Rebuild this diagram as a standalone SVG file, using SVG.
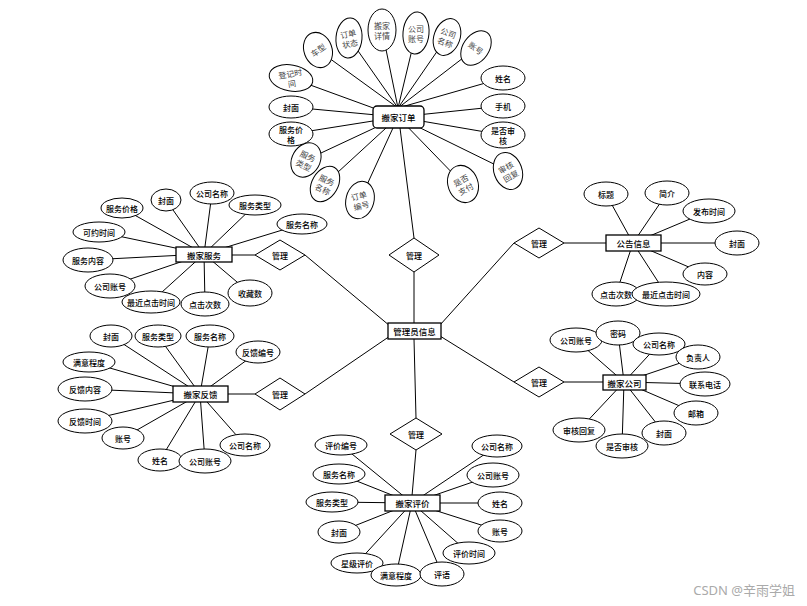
<svg xmlns="http://www.w3.org/2000/svg" width="807" height="606" viewBox="0 0 807 606">
<style>
.l{stroke:#000;stroke-width:1;fill:none}
.e{fill:#fff;stroke:#000;stroke-width:1}
.b{fill:#fff;stroke:#000;stroke-width:1.3}
.d{fill:#fff;stroke:#000;stroke-width:1}
.t{font-family:"Noto Sans CJK SC","Noto Sans",sans-serif;font-size:8px;font-weight:500;text-anchor:middle;dominant-baseline:central;fill:#000}
.s{fill:#444;font-weight:normal}
.k{font-size:8.5px;font-weight:500}
.w{font-family:"Noto Sans","Noto Sans CJK SC",sans-serif;font-size:13px;fill:#aaa;text-anchor:end}
</style>
<rect width="807" height="606" fill="#fff"/>
<g id="connectors">
<line class="l" x1="414" y1="323" x2="414" y2="272"/>
<line class="l" x1="414" y1="238" x2="400" y2="128"/>
<line class="l" x1="390" y1="326" x2="305" y2="255"/>
<line class="l" x1="255" y1="255" x2="230" y2="255"/>
<line class="l" x1="390" y1="336" x2="305" y2="394"/>
<line class="l" x1="255" y1="394" x2="227" y2="394"/>
<line class="l" x1="414" y1="339" x2="416" y2="418"/>
<line class="l" x1="416" y1="450" x2="412" y2="496"/>
<line class="l" x1="440" y1="325" x2="514" y2="243"/>
<line class="l" x1="564" y1="243" x2="607" y2="243"/>
<line class="l" x1="440" y1="336" x2="514" y2="382"/>
<line class="l" x1="564" y1="382" x2="604" y2="382"/>
<line class="l" x1="318" y1="50" x2="398" y2="108"/>
<line class="l" x1="349" y1="38" x2="398" y2="108"/>
<line class="l" x1="382" y1="30" x2="398" y2="108"/>
<line class="l" x1="416" y1="33" x2="398" y2="108"/>
<line class="l" x1="447" y1="37" x2="398" y2="108"/>
<line class="l" x1="476" y1="48" x2="398" y2="108"/>
<line class="l" x1="503" y1="78" x2="398" y2="108"/>
<line class="l" x1="503" y1="106" x2="398" y2="117"/>
<line class="l" x1="503" y1="135" x2="398" y2="117"/>
<line class="l" x1="508" y1="171" x2="398" y2="117"/>
<line class="l" x1="463" y1="184" x2="398" y2="117"/>
<line class="l" x1="360" y1="200" x2="398" y2="117"/>
<line class="l" x1="325" y1="184" x2="398" y2="117"/>
<line class="l" x1="306" y1="160" x2="398" y2="117"/>
<line class="l" x1="291" y1="134" x2="398" y2="117"/>
<line class="l" x1="291" y1="107" x2="398" y2="117"/>
<line class="l" x1="291" y1="78" x2="398" y2="117"/>
<line class="l" x1="122" y1="208" x2="204" y2="254"/>
<line class="l" x1="166" y1="200" x2="204" y2="254"/>
<line class="l" x1="212" y1="193" x2="204" y2="254"/>
<line class="l" x1="255" y1="205" x2="204" y2="254"/>
<line class="l" x1="302" y1="224" x2="204" y2="254"/>
<line class="l" x1="99" y1="232" x2="204" y2="254"/>
<line class="l" x1="88" y1="260" x2="204" y2="254"/>
<line class="l" x1="110" y1="286" x2="204" y2="254"/>
<line class="l" x1="151" y1="302" x2="204" y2="254"/>
<line class="l" x1="205" y1="304" x2="204" y2="254"/>
<line class="l" x1="250" y1="293" x2="204" y2="254"/>
<line class="l" x1="111" y1="336" x2="200" y2="394"/>
<line class="l" x1="158" y1="336" x2="200" y2="394"/>
<line class="l" x1="210" y1="336" x2="200" y2="394"/>
<line class="l" x1="258" y1="352" x2="200" y2="394"/>
<line class="l" x1="89" y1="362" x2="200" y2="394"/>
<line class="l" x1="85" y1="389" x2="200" y2="394"/>
<line class="l" x1="85" y1="421" x2="200" y2="394"/>
<line class="l" x1="123" y1="438" x2="200" y2="394"/>
<line class="l" x1="160" y1="460" x2="200" y2="394"/>
<line class="l" x1="205" y1="461" x2="200" y2="394"/>
<line class="l" x1="245" y1="445" x2="200" y2="394"/>
<line class="l" x1="341" y1="445" x2="412" y2="503"/>
<line class="l" x1="339" y1="474" x2="412" y2="503"/>
<line class="l" x1="332" y1="502" x2="412" y2="503"/>
<line class="l" x1="339" y1="532" x2="412" y2="503"/>
<line class="l" x1="357" y1="563" x2="412" y2="503"/>
<line class="l" x1="396" y1="575" x2="412" y2="503"/>
<line class="l" x1="442" y1="574" x2="412" y2="503"/>
<line class="l" x1="469" y1="553" x2="412" y2="503"/>
<line class="l" x1="500" y1="531" x2="412" y2="503"/>
<line class="l" x1="500" y1="503" x2="412" y2="503"/>
<line class="l" x1="493" y1="475" x2="412" y2="503"/>
<line class="l" x1="497" y1="446" x2="412" y2="503"/>
<line class="l" x1="606" y1="194" x2="633" y2="243"/>
<line class="l" x1="667" y1="193" x2="633" y2="243"/>
<line class="l" x1="709" y1="211" x2="633" y2="243"/>
<line class="l" x1="737" y1="243" x2="633" y2="243"/>
<line class="l" x1="705" y1="274" x2="633" y2="243"/>
<line class="l" x1="616" y1="294" x2="633" y2="243"/>
<line class="l" x1="666" y1="294" x2="633" y2="243"/>
<line class="l" x1="576" y1="340" x2="624" y2="382"/>
<line class="l" x1="618" y1="333" x2="624" y2="382"/>
<line class="l" x1="659" y1="344" x2="624" y2="382"/>
<line class="l" x1="698" y1="357" x2="624" y2="382"/>
<line class="l" x1="705" y1="384" x2="624" y2="382"/>
<line class="l" x1="696" y1="413" x2="624" y2="382"/>
<line class="l" x1="664" y1="433" x2="624" y2="382"/>
<line class="l" x1="622" y1="446" x2="624" y2="382"/>
<line class="l" x1="579" y1="430" x2="624" y2="382"/>
</g>

<g id="rel-top"><polygon class="d" points="414,238 439,255 414,272 389,255"/><text class="t" x="414" y="255">管理</text></g>
<g id="rel-ul"><polygon class="d" points="280,240 305,255 280,270 255,255"/><text class="t" x="280" y="255">管理</text></g>
<g id="rel-ll"><polygon class="d" points="280,378 305,394 280,410 255,394"/><text class="t" x="280" y="394">管理</text></g>
<g id="rel-bot"><polygon class="d" points="416,418 442,434 416,450 390,434"/><text class="t" x="416" y="434">管理</text></g>
<g id="rel-ur"><polygon class="d" points="539,228 564,243 539,258 514,243"/><text class="t" x="539" y="243">管理</text></g>
<g id="rel-lr"><polygon class="d" points="539,367 564,382 539,397 514,382"/><text class="t" x="539" y="382">管理</text></g>

<g id="admin"><rect class="b" x="388" y="323" width="53" height="16"/><text class="t k" x="414.5" y="331">管理员信息</text></g>

<g id="order-attrs">
<g id="o-chexing" transform="translate(318,50)"><ellipse class="e" rx="14" ry="18" transform="rotate(-20)"/><text class="t s" transform="rotate(-35)">车型</text></g>
<g id="o-ddzt" transform="translate(349,38)"><ellipse class="e" rx="13" ry="20" transform="rotate(5)"/><text class="t s" transform="rotate(-12)"><tspan x="0" y="-5">订单</tspan><tspan x="0" y="5">状态</tspan></text></g>
<g id="o-bjxq" transform="translate(382,30)"><ellipse class="e" rx="14" ry="21"/><text class="t s"><tspan x="0" y="-5">搬家</tspan><tspan x="0" y="5">详情</tspan></text></g>
<g id="o-gszh" transform="translate(416,33)"><ellipse class="e" rx="13" ry="21" transform="rotate(5)"/><text class="t s"><tspan x="0" y="-5">公司</tspan><tspan x="0" y="5">账号</tspan></text></g>
<g id="o-gsmc" transform="translate(447,37)"><ellipse class="e" rx="13" ry="19" transform="rotate(20)"/><text class="t s" transform="rotate(20)"><tspan x="0" y="-5">公司</tspan><tspan x="0" y="5">名称</tspan></text></g>
<g id="o-zh" transform="translate(476,48)"><ellipse class="e" rx="13" ry="19" transform="rotate(35)"/><text class="t s" transform="rotate(35)">账号</text></g>
<g id="o-xm"><ellipse class="e" cx="503" cy="78" rx="22" ry="12"/><text class="t" x="503" y="78">姓名</text></g>
<g id="o-sj"><ellipse class="e" cx="503" cy="106" rx="22" ry="12"/><text class="t" x="503" y="106">手机</text></g>
<g id="o-sfsh"><ellipse class="e" cx="503" cy="135" rx="22" ry="13"/><text class="t"><tspan x="503" y="130">是否审</tspan><tspan x="503" y="140">核</tspan></text></g>
<g id="o-shhf" transform="translate(508,171)"><ellipse class="e" rx="14" ry="19" transform="rotate(-20)"/><text class="t s" transform="rotate(-30)"><tspan x="0" y="-5">审核</tspan><tspan x="0" y="5">回复</tspan></text></g>
<g id="o-sfzf" transform="translate(463,184)"><ellipse class="e" rx="15" ry="19" transform="rotate(-20)"/><text class="t s" transform="rotate(-30)"><tspan x="0" y="-5">是否</tspan><tspan x="0" y="5">支付</tspan></text></g>
<g id="o-ddbh" transform="translate(360,200)"><ellipse class="e" rx="14" ry="19" transform="rotate(15)"/><text class="t s" transform="rotate(-15)"><tspan x="0" y="-5">订单</tspan><tspan x="0" y="5">编号</tspan></text></g>
<g id="o-fwmc" transform="translate(325,184)"><ellipse class="e" rx="13" ry="19" transform="rotate(30)"/><text class="t s" transform="rotate(25)"><tspan x="0" y="-5">服务</tspan><tspan x="0" y="5">名称</tspan></text></g>
<g id="o-fwlx" transform="translate(306,160)"><ellipse class="e" rx="14" ry="18" transform="rotate(30)"/><text class="t s" transform="rotate(25)"><tspan x="0" y="-5">服务</tspan><tspan x="0" y="5">类型</tspan></text></g>
<g id="o-fwjg"><ellipse class="e" cx="291" cy="134" rx="22" ry="12"/><text class="t"><tspan x="291" y="129">服务价</tspan><tspan x="291" y="139">格</tspan></text></g>
<g id="o-fm"><ellipse class="e" cx="291" cy="107" rx="22" ry="11"/><text class="t" x="291" y="107">封面</text></g>
<g id="o-djsj" transform="translate(291,78)"><ellipse class="e" rx="22" ry="13" transform="rotate(10)"/><text class="t s" transform="rotate(-10)"><tspan x="0" y="-5">登记时</tspan><tspan x="0" y="5">间</tspan></text></g>
</g>
<g id="order"><rect class="b" x="373" y="106" width="51" height="22" rx="4"/><text class="t k" x="398.5" y="117">搬家订单</text></g>

<g id="service-attrs">
<g><ellipse class="e" cx="122" cy="208" rx="21" ry="10"/><text class="t" x="122" y="208">服务价格</text></g>
<g><ellipse class="e" cx="166" cy="200" rx="15" ry="11"/><text class="t" x="166" y="200">封面</text></g>
<g><ellipse class="e" cx="212" cy="193" rx="22" ry="11"/><text class="t" x="212" y="193">公司名称</text></g>
<g><ellipse class="e" cx="255" cy="205" rx="26" ry="10"/><text class="t" x="255" y="205">服务类型</text></g>
<g><ellipse class="e" cx="302" cy="224" rx="25" ry="10"/><text class="t" x="302" y="224">服务名称</text></g>
<g><ellipse class="e" cx="99" cy="232" rx="26" ry="10"/><text class="t" x="99" y="232">可约时间</text></g>
<g><ellipse class="e" cx="88" cy="260" rx="25" ry="12"/><text class="t" x="88" y="260">服务内容</text></g>
<g><ellipse class="e" cx="110" cy="286" rx="25" ry="12"/><text class="t" x="110" y="286">公司账号</text></g>
<g><ellipse class="e" cx="151" cy="302" rx="29" ry="11"/><text class="t" x="151" y="302">最近点击时间</text></g>
<g><ellipse class="e" cx="205" cy="304" rx="24" ry="12"/><text class="t" x="205" y="304">点击次数</text></g>
<g><ellipse class="e" cx="250" cy="293" rx="22" ry="13"/><text class="t" x="250" y="293">收藏数</text></g>
</g>
<g id="service"><rect class="b" x="176" y="247" width="56" height="15"/><text class="t k" x="204" y="254.5">搬家服务</text></g>

<g id="feedback-attrs">
<g><ellipse class="e" cx="111" cy="336" rx="21" ry="11"/><text class="t" x="111" y="336">封面</text></g>
<g><ellipse class="e" cx="158" cy="336" rx="23" ry="11"/><text class="t" x="158" y="336">服务类型</text></g>
<g><ellipse class="e" cx="210" cy="336" rx="24" ry="11"/><text class="t" x="210" y="336">服务名称</text></g>
<g><ellipse class="e" cx="258" cy="352" rx="22" ry="11"/><text class="t" x="258" y="352">反馈编号</text></g>
<g><ellipse class="e" cx="89" cy="362" rx="26" ry="10"/><text class="t" x="89" y="362">满意程度</text></g>
<g><ellipse class="e" cx="85" cy="389" rx="27" ry="12"/><text class="t" x="85" y="389">反馈内容</text></g>
<g><ellipse class="e" cx="85" cy="421" rx="27" ry="12"/><text class="t" x="85" y="421">反馈时间</text></g>
<g><ellipse class="e" cx="123" cy="438" rx="21" ry="11"/><text class="t" x="123" y="438">账号</text></g>
<g><ellipse class="e" cx="160" cy="460" rx="22" ry="11"/><text class="t" x="160" y="460">姓名</text></g>
<g><ellipse class="e" cx="245" cy="445" rx="25" ry="11"/><text class="t" x="245" y="445">公司名称</text></g>
<g><ellipse class="e" cx="205" cy="461" rx="26" ry="12"/><text class="t" x="205" y="461">公司账号</text></g>
</g>
<g id="feedback"><rect class="b" x="173" y="386" width="55" height="16"/><text class="t k" x="200.5" y="394">搬家反馈</text></g>

<g id="review-attrs">
<g><ellipse class="e" cx="341" cy="445" rx="26" ry="10"/><text class="t" x="341" y="445">评价编号</text></g>
<g><ellipse class="e" cx="339" cy="474" rx="26" ry="10"/><text class="t" x="339" y="474">服务名称</text></g>
<g><ellipse class="e" cx="332" cy="502" rx="26" ry="10"/><text class="t" x="332" y="502">服务类型</text></g>
<g><ellipse class="e" cx="339" cy="532" rx="21" ry="11"/><text class="t" x="339" y="532">封面</text></g>
<g><ellipse class="e" cx="357" cy="563" rx="26" ry="10"/><text class="t" x="357" y="563">星级评价</text></g>
<g><ellipse class="e" cx="396" cy="575" rx="25" ry="11"/><text class="t" x="396" y="575">满意程度</text></g>
<g><ellipse class="e" cx="442" cy="574" rx="22" ry="12"/><text class="t" x="442" y="574">评语</text></g>
<g><ellipse class="e" cx="469" cy="553" rx="26" ry="11"/><text class="t" x="469" y="553">评价时间</text></g>
<g><ellipse class="e" cx="500" cy="531" rx="22" ry="11"/><text class="t" x="500" y="531">账号</text></g>
<g><ellipse class="e" cx="500" cy="503" rx="22" ry="11"/><text class="t" x="500" y="503">姓名</text></g>
<g><ellipse class="e" cx="493" cy="475" rx="26" ry="12"/><text class="t" x="493" y="475">公司账号</text></g>
<g><ellipse class="e" cx="497" cy="446" rx="25" ry="11"/><text class="t" x="497" y="446">公司名称</text></g>
</g>
<g id="review"><rect class="b" x="385" y="495" width="55" height="16"/><text class="t k" x="412.5" y="503">搬家评价</text></g>

<g id="notice-attrs">
<g><ellipse class="e" cx="606" cy="194" rx="22" ry="12"/><text class="t" x="606" y="194">标题</text></g>
<g><ellipse class="e" cx="667" cy="193" rx="22" ry="12"/><text class="t" x="667" y="193">简介</text></g>
<g><ellipse class="e" cx="709" cy="211" rx="26" ry="12"/><text class="t" x="709" y="211">发布时间</text></g>
<g><ellipse class="e" cx="737" cy="243" rx="22" ry="12"/><text class="t" x="737" y="243">封面</text></g>
<g><ellipse class="e" cx="705" cy="274" rx="22" ry="11"/><text class="t" x="705" y="274">内容</text></g>
<g><ellipse class="e" cx="616" cy="294" rx="24" ry="12"/><text class="t" x="616" y="294">点击次数</text></g>
<g><ellipse class="e" cx="666" cy="294" rx="34" ry="12"/><text class="t" x="666" y="294">最近点击时间</text></g>
</g>
<g id="notice"><rect class="b" x="606" y="235" width="55" height="16"/><text class="t k" x="633.5" y="243">公告信息</text></g>

<g id="company-attrs">
<g><ellipse class="e" cx="576" cy="340" rx="26" ry="12"/><text class="t" x="576" y="340">公司账号</text></g>
<g><ellipse class="e" cx="618" cy="333" rx="22" ry="12"/><text class="t" x="618" y="333">密码</text></g>
<g><ellipse class="e" cx="659" cy="344" rx="26" ry="11"/><text class="t" x="659" y="344">公司名称</text></g>
<g><ellipse class="e" cx="698" cy="357" rx="22" ry="12"/><text class="t" x="698" y="357">负责人</text></g>
<g><ellipse class="e" cx="705" cy="384" rx="25" ry="12"/><text class="t" x="705" y="384">联系电话</text></g>
<g><ellipse class="e" cx="696" cy="413" rx="22" ry="12"/><text class="t" x="696" y="413">邮箱</text></g>
<g><ellipse class="e" cx="664" cy="433" rx="22" ry="12"/><text class="t" x="664" y="433">封面</text></g>
<g><ellipse class="e" cx="579" cy="430" rx="26" ry="12"/><text class="t" x="579" y="430">审核回复</text></g>
<g><ellipse class="e" cx="622" cy="446" rx="26" ry="12"/><text class="t" x="622" y="446">是否审核</text></g>
</g>
<g id="company"><rect class="b" x="603" y="375" width="43" height="15"/><text class="t k" x="624.5" y="382.5">搬家公司</text></g>

<text class="w" x="795" y="595">CSDN @辛雨学姐</text>
</svg>
